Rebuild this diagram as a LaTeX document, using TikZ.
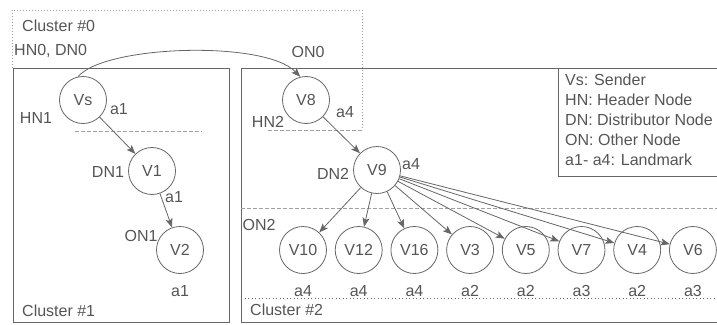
\documentclass[tikz,border=0pt]{standalone}
\usepackage{fontspec}
\setmainfont{Liberation Sans}
\usetikzlibrary{arrows.meta}
\definecolor{inkgray}{HTML}{555555}
\definecolor{rulegray}{HTML}{666666}
\definecolor{softgray}{HTML}{A0A0A0}

\begin{document}
\begin{tikzpicture}[
    x=1pt, y=-1pt,
    >={Stealth[length=9pt, width=7pt, inset=2pt]},
    every node/.style={text=inkgray, font=\fontsize{16}{20}\selectfont},
  ]

  \useasboundingbox (0,0) rectangle (717,324);

  % Styles
  \tikzset{
    peer/.style={circle, draw=rulegray, line width=0.8pt,
                 minimum size=47pt, inner sep=0pt},
    frame/.style={draw=rulegray, line width=0.9pt},
    link/.style={->, line width=0.8pt, rulegray},
    softdash/.style={softgray, line width=0.8pt, dash pattern=on 4pt off 2pt},
    softdot/.style={softgray, line width=1pt, dash pattern=on 1.2pt off 1.8pt},
  }

  % Cluster #0 (dotted outline, lower bound dashed)
  \draw[softdot] (12,68) -- (12,10) -- (362,10) -- (362,130);
  \draw[softdash] (75,131) -- (202,131);
  \draw[softdash] (268,130) -- (362,130);

  % Cluster #1 and Cluster #2
  \draw[frame] (13,68) rectangle (229,322);
  \draw[frame] (717,322) -- (241,322) -- (241,68) -- (717,68);

  % Cluster #2 inner bounds
  \draw[softdash] (241,208) -- (717,208);
  \draw[rulegray, line width=0.9pt, dash pattern=on 1pt off 2.5pt] (241,298) -- (717,298);

  % Legend
  \draw[frame] (558,68) -- (558,176) -- (717,176);
  \node[anchor=north west, align=left, inner sep=0pt] (legend) at (565,74)
    {Vs: Sender\\ HN: Header Node\\ DN: Distributor Node\\
     ON: Other Node\\ a1- a4: Landmark};

  % Cluster labels
  \node[anchor=west, inner sep=0pt] (c0) at (22,26) {Cluster \#0};
  \node[anchor=west, inner sep=0pt] (c1) at (22,311) {Cluster \#1};
  \node[anchor=west, inner sep=0pt] (c2) at (250,310) {Cluster \#2};

  % Nodes
  \node[peer] (vs) at (83,100) {Vs};
  \node[peer] (v1) at (152,171) {V1};
  \node[peer] (v2) at (180,250) {V2};
  \node[peer] (v8) at (306,100) {V8};
  \node[peer] (v9) at (377,170) {V9};

  % Role and landmark labels
  \node[anchor=west, inner sep=0pt] (hn0) at (14,51) {HN0, DN0};
  \node (on0) at (308,52) {ON0};
  \node (hn1) at (36,118) {HN1};
  \node (lvs) at (119,109) {a1};
  \node (dn1) at (108,172) {DN1};
  \node (lv1) at (174,197) {a1};
  \node (on1) at (141,236) {ON1};
  \node (lv2) at (180,291) {a1};
  \node (hn2) at (268,122) {HN2};
  \node (lv8) at (345,112) {a4};
  \node (dn2) at (333,174) {DN2};
  \node (lv9) at (411,164) {a4};
  \node (on2) at (259,225) {ON2};

  % Edges inside cluster #1
  \draw[link] (vs) -- (v1);
  \draw[link] (v1) -- (v2);

  % Vs -> V8 across clusters
  \draw[link] (vs.102) .. controls (105,45) and (265,40) .. (v8.104);

  % Edge V8 -> V9
  \draw[link] (v8) -- (v9);

  % Other nodes of cluster #2
  \foreach \name/\lab/\mark [count=\i from 0] in
      {v10/V10/a4, v12/V12/a4, v16/V16/a4, v3/V3/a2,
       v5/V5/a2, v7/V7/a3, v4/V4/a2, v6/V6/a3} {
    \node[peer] (\name) at ({303+55.7*\i},250) {\lab};
    \node (m\name) at ({303+55.7*\i},291) {\mark};
    \draw[link] (v9) -- (\name);
  }

\end{tikzpicture}
\end{document}
